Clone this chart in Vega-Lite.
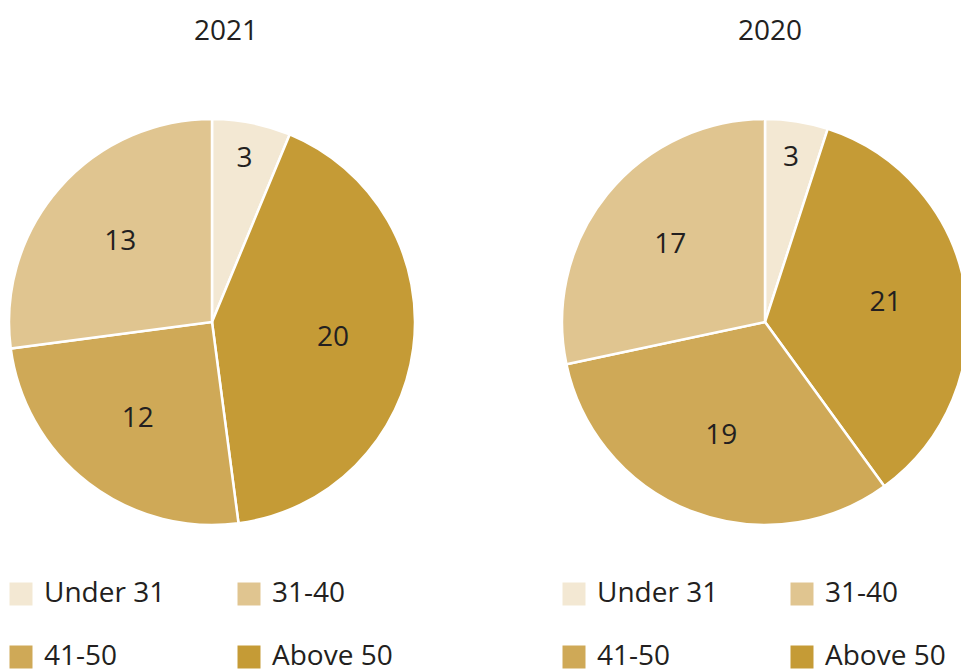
{
  "$schema": "https://vega.github.io/schema/vega-lite/v6.json",
  "padding": {"left": 4, "top": 18, "right": 0, "bottom": 0},
  "background": "white",
  "datasets": {
    "ages": [
      {"year": "2021", "age": "Under 31", "value": 3, "pos": 1},
      {"year": "2021", "age": "Above 50", "value": 20, "pos": 2},
      {"year": "2021", "age": "41-50", "value": 12, "pos": 3},
      {"year": "2021", "age": "31-40", "value": 13, "pos": 4},
      {"year": "2020", "age": "Under 31", "value": 3, "pos": 1},
      {"year": "2020", "age": "Above 50", "value": 21, "pos": 2},
      {"year": "2020", "age": "41-50", "value": 19, "pos": 3},
      {"year": "2020", "age": "31-40", "value": 17, "pos": 4}
    ]
  },
  "spacing": 137,
  "hconcat": [
    {
      "width": 406,
      "height": 406,
      "title": {"text": "2021", "anchor": "middle", "dx": 14, "offset": 68},
      "data": {"name": "ages"},
      "transform": [{"filter": "datum.year === '2021'"}],
      "encoding": {
        "theta": {"field": "value", "type": "quantitative", "stack": true},
        "order": {"field": "pos", "type": "quantitative", "sort": "ascending"}
      },
      "layer": [
        {
          "mark": {"type": "arc", "outerRadius": 203, "stroke": "white", "strokeWidth": 2.5},
          "encoding": {
            "color": {
              "field": "age", "type": "nominal",
              "scale": {"domain": ["Under 31", "31-40", "41-50", "Above 50"], "range": ["#f3e8d3", "#e0c590", "#cfa957", "#c59b36"]},
              "legend": {"orient": "none", "direction": "horizontal", "legendX": -2, "legendY": 461, "columns": 2, "title": null}
            }
          }
        },
        {
          "mark": {"type": "text", "radius": 166},
          "encoding": {"text": {"condition": {"test": "datum.value < 5", "field": "value"}, "value": ""}}
        },
        {
          "mark": {"type": "text", "radius": 122},
          "encoding": {"text": {"condition": {"test": "datum.value >= 5", "field": "value"}, "value": ""}}
        }
      ]
    },
    {
      "width": 406,
      "height": 406,
      "title": {"text": "2020", "anchor": "middle", "dx": 5, "offset": 68},
      "data": {"name": "ages"},
      "transform": [{"filter": "datum.year === '2020'"}],
      "encoding": {
        "theta": {"field": "value", "type": "quantitative", "stack": true},
        "order": {"field": "pos", "type": "quantitative", "sort": "ascending"}
      },
      "layer": [
        {
          "mark": {"type": "arc", "outerRadius": 203, "stroke": "white", "strokeWidth": 2.5},
          "encoding": {
            "color": {
              "field": "age", "type": "nominal",
              "scale": {"domain": ["Under 31", "31-40", "41-50", "Above 50"], "range": ["#f3e8d3", "#e0c590", "#cfa957", "#c59b36"]},
              "legend": {"orient": "none", "direction": "horizontal", "legendX": -2, "legendY": 461, "columns": 2, "title": null}
            }
          }
        },
        {
          "mark": {"type": "text", "radius": 166},
          "encoding": {"text": {"condition": {"test": "datum.value < 5", "field": "value"}, "value": ""}}
        },
        {
          "mark": {"type": "text", "radius": 122},
          "encoding": {"text": {"condition": {"test": "datum.value >= 5", "field": "value"}, "value": ""}}
        }
      ]
    }
  ],
  "resolve": {"scale": {"color": "independent", "theta": "independent"}, "legend": {"color": "independent"}},
  "config": {
    "view": {"stroke": null},
    "font": "Open Sans",
    "title": {"font": "Open Sans", "fontSize": 28, "fontWeight": "normal", "color": "#231f20"},
    "text": {"font": "Open Sans", "fontSize": 28, "color": "#231f20", "align": "center", "baseline": "middle"},
    "legend": {
      "symbolType": "square",
      "symbolSize": 529,
      "symbolStrokeWidth": 0,
      "labelFont": "Open Sans",
      "labelFontSize": 28,
      "labelColor": "#231f20",
      "labelOffset": 9,
      "labelLimit": 300,
      "columnPadding": 69,
      "rowPadding": 35
    }
  }
}
